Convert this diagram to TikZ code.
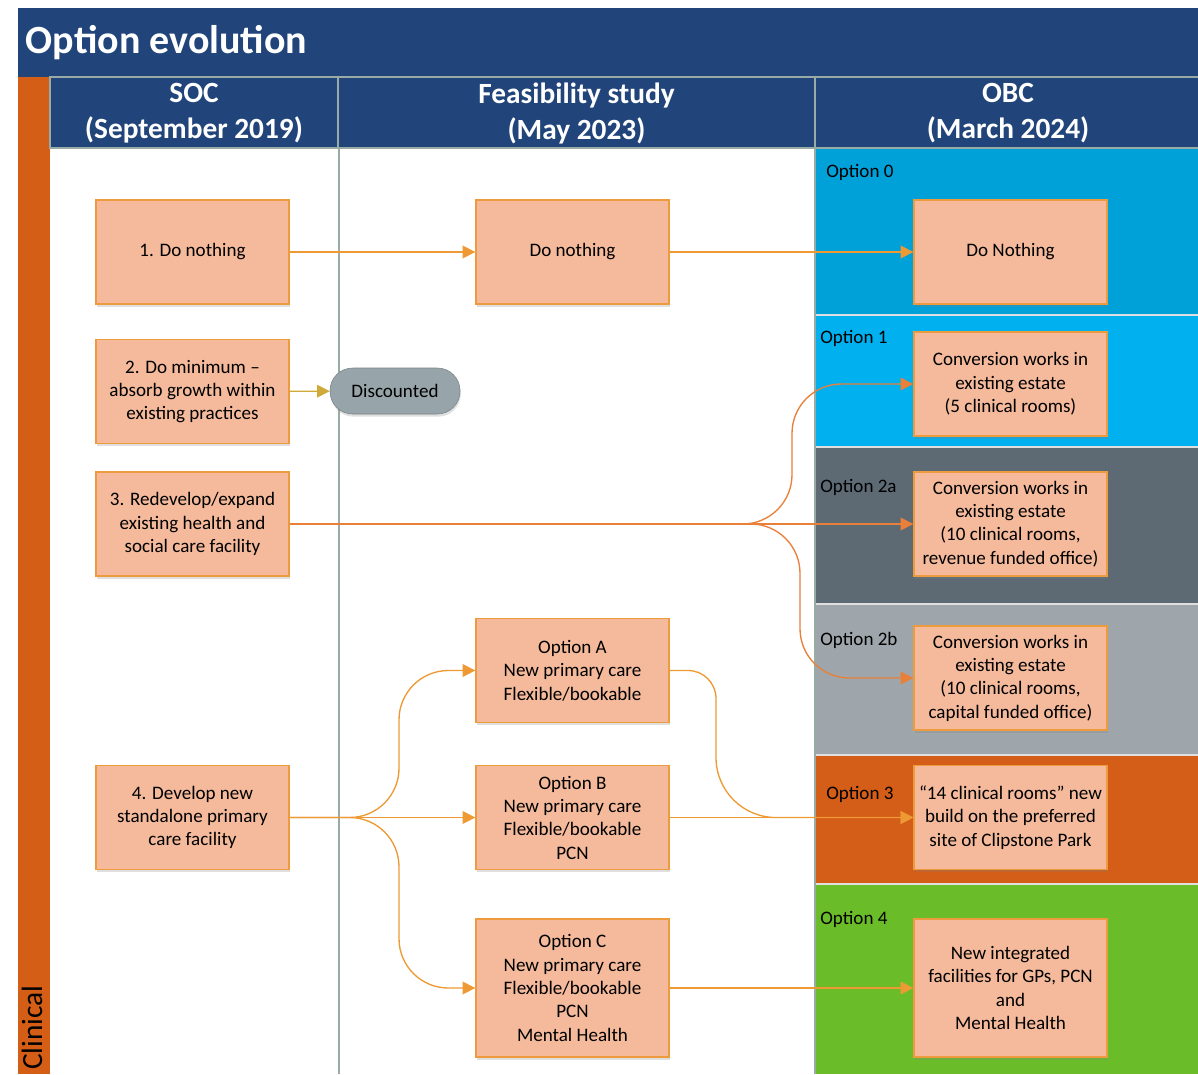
\documentclass[tikz,border=0pt]{standalone}
\usepackage{fontspec}
\setmainfont{Carlito}
\usetikzlibrary{arrows.meta,positioning,shadows}
\definecolor{navy}{HTML}{21457A}
\definecolor{barorange}{HTML}{D55E16}
\definecolor{boxfill}{HTML}{F4BA9B}
\definecolor{boxline}{HTML}{EE9B3E}
\definecolor{linkor}{HTML}{EE9A34}
\definecolor{linkred}{HTML}{E8803A}
\definecolor{linkgold}{HTML}{CFAA38}
\definecolor{sepline}{HTML}{98ABA5}
\definecolor{optzero}{HTML}{00A0D9}
\definecolor{optone}{HTML}{00B0EF}
\definecolor{opttwoa}{HTML}{5D6A74}
\definecolor{opttwob}{HTML}{9EA6AB}
\definecolor{optthree}{HTML}{D45D17}
\definecolor{optfour}{HTML}{6ABD28}
\definecolor{discfill}{HTML}{97A4A9}
\begin{document}
\begin{tikzpicture}[x=0.75pt,y=-0.75pt,
    box/.style={draw=boxline,fill=boxfill,line width=1pt,minimum width=144.75pt,minimum height=78pt,
      align=center,font=\fontsize{14.3}{17.5}\selectfont,
      drop shadow={opacity=.25,shadow xshift=.6pt,shadow yshift=-2pt}},
    tallbox/.style={box,minimum height=103.5pt},
    link/.style={draw=linkor,line width=1pt,-{Triangle[length=9.5pt,width=9.5pt]}},
    head/.style={font=\bfseries\fontsize{22}{27}\selectfont,text=white,align=center},
    optlabel/.style={anchor=west,inner sep=0pt,font=\fontsize{14.3}{16}\selectfont}]
  \useasboundingbox (0,0) rectangle (1198,1074);
  \fill[white] (0,0) rectangle (1198,1074);

  \fill[navy] (18,8) rectangle (1198,77);
  \node[anchor=west,text=white,font=\bfseries\fontsize{30}{34}\selectfont] (title) at (21,43) {Option evolution};
  \fill[barorange] (18,77) rectangle (50,1074);
  \node[rotate=90,anchor=base west,inner sep=0pt,font=\fontsize{22}{25}\selectfont] (clinical) at (42,1070) {Clinical};

  \foreach \t/\b/\c in {148/315/optzero,315/447/optone,447/604/opttwoa,604/755/opttwob,755/884/optthree,884/1074/optfour}
    \fill[\c] (815,\t) rectangle (1198,\b);
  \foreach \y in {315,447,604,755,884}
    \draw[white!75!gray,line width=1pt] (815,\y) -- (1198,\y);
  \draw[sepline,line width=1.1pt] (339,148) -- (339,1074);
  \draw[sepline,line width=.8pt] (815,148) -- (815,1074);

  \draw[sepline,fill=navy,line width=.8pt] (50,77) rectangle (338,148);
  \draw[sepline,fill=navy,line width=.8pt] (338,77) rectangle (815,148);
  \draw[sepline,fill=navy,line width=.8pt] (815,77) rectangle (1199,148);
  \node[head] (soc) at (194,113.5) {SOC\\(September 2019)};
  \node[head] (feas) at (576.5,113.5) {Feasibility study\\(May 2023)};
  \node[head] (obc) at (1008,113.5) {OBC\\(March 2024)};

  \node[optlabel] (l0) at (826,172) {Option 0};
  \node[optlabel] (l1) at (820,338) {Option 1};
  \node[optlabel] (l2a) at (820,487) {Option 2a};
  \node[optlabel] (l2b) at (820,640) {Option 2b};
  \node[optlabel] (l3) at (826,794) {Option 3};
  \node[optlabel] (l4) at (820,919) {Option 4};

  \node[box] (s1) at (192.5,252) {1. Do nothing};
  \node[box] (s2) at (192.5,391.5) {2. Do minimum --\\absorb growth within\\existing practices};
  \node[box] (s3) at (192.5,524) {3. Redevelop/expand\\existing health and\\social care facility};
  \node[box] (s4) at (192.5,817.5) {4. Develop new\\standalone primary\\care facility};

  \node[draw=discfill!80!black,fill=discfill,rounded corners=17pt,minimum width=97.5pt,minimum height=34.5pt,
    font=\fontsize{14.3}{16}\selectfont,drop shadow={opacity=.25,shadow xshift=.6pt,shadow yshift=-2pt}]
    (disc) at (395,391) {Discounted};

  \node[box] (f0) at (572.5,252) {Do nothing};
  \node[box] (fa) at (572.5,670.5) {Option A\\New primary care\\Flexible/bookable};
  \node[box] (fb) at (572.5,817.5) {Option B\\New primary care\\Flexible/bookable\\PCN};
  \node[tallbox] (fc) at (572.5,988) {Option C\\New primary care\\Flexible/bookable\\PCN\\Mental Health};

  \node[box] (o0) at (1010.5,252) {Do Nothing};
  \node[box] (o1) at (1010.5,384) {Conversion works in\\existing estate\\(5 clinical rooms)};
  \node[box] (o2a) at (1010.5,524) {Conversion works in\\existing estate\\(10 clinical rooms,\\revenue funded office)};
  \node[box] (o2b) at (1010.5,678) {Conversion works in\\existing estate\\(10 clinical rooms,\\capital funded office)};
  \node[box] (o3) at (1010.5,817.5) {``14 clinical rooms'' new\\build on the preferred\\site of Clipstone Park};
  \node[tallbox] (o4) at (1010.5,988) {New integrated\\facilities for GPs, PCN\\and\\Mental Health};

  \coordinate (laneup) at (792,0);
  \coordinate (lanedown) at (800,0);
  \coordinate (lanefeas) at (399,0);
  \coordinate (lanea) at (716,0);

  \draw[link] (s1) -- (f0);
  \draw[link] (f0) -- (o0);
  \draw[link,draw=linkgold] (s2) -- (disc);
  \draw[link,draw=linkred] (s3) -- (o2a);
  \draw[link,draw=linkred,rounded corners=37pt] (s3.east) -- (laneup |- s3.east) -- (laneup |- o1.west) -- (o1.west);
  \draw[link,draw=linkred,rounded corners=37pt] (s3.east) -- (lanedown |- s3.east) -- (lanedown |- o2b.west) -- (o2b.west);
  \draw[link] (s4) -- (fb);
  \draw[link,rounded corners=37pt] (s4.east) -- (lanefeas |- s4.east) -- (lanefeas |- fa.west) -- (fa.west);
  \draw[link,rounded corners=37pt] (s4.east) -- (lanefeas |- s4.east) -- (lanefeas |- fc.west) -- (fc.west);
  \draw[link] (fa.east) [rounded corners=21pt] -- (lanea |- fa.east) [rounded corners=45pt] -- (lanea |- o3.west) -- (o3.west);
  \draw[link] (fb) -- (o3);
  \draw[link] (fc) -- (o4);
\end{tikzpicture}
\end{document}
